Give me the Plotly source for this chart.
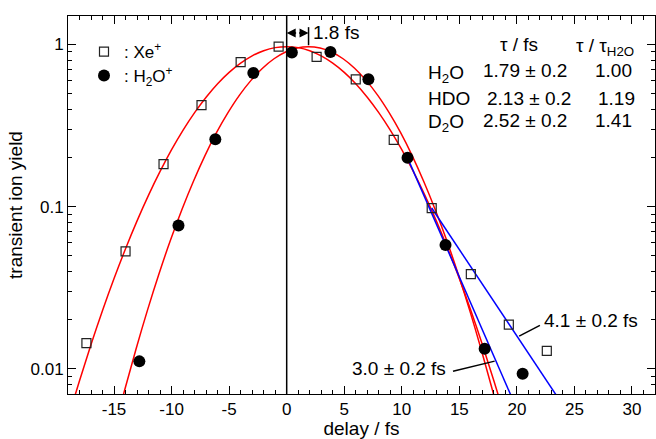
import math
import plotly.graph_objects as go

# ---- data ----
xe_delay = [-17.4, -14.0, -10.7, -7.4, -4.0, -0.7, 2.6, 6.0, 9.3, 12.6, 16.0, 19.3, 22.6]
xe_yield = [0.0144, 0.053, 0.183, 0.423, 0.778, 0.97, 0.84, 0.61, 0.258, 0.098, 0.0383, 0.0187, 0.0129]

h2o_delay = [-12.8, -9.4, -6.2, -2.9, 0.45, 3.8, 7.1, 10.5, 13.8, 17.2, 20.5]
h2o_yield = [0.0111, 0.0765, 0.26, 0.668, 0.893, 0.90, 0.61, 0.20, 0.058, 0.0133, 0.0093]

# Gaussian fit curves
fit_xe_delay = [-19, -18, -17, -16, -15, -14, -13, -12, -11, -10, -9, -8, -7, -6, -5, -4, -3, -2, -1, 0,
                1, 2, 3, 4, 5, 6, 7, 8, 9, 10, 11, 12, 13, 14, 15, 16, 17, 18, 19]
fit_xe_yield = [0.00491, 0.00843, 0.0141, 0.02286, 0.036, 0.055, 0.0817, 0.1178, 0.1648, 0.2244, 0.2965,
                0.380, 0.473, 0.573, 0.673, 0.767, 0.851, 0.916, 0.957, 0.970,
                0.957, 0.916, 0.851, 0.767, 0.673, 0.573, 0.473, 0.380, 0.2965, 0.2244, 0.1648, 0.1178,
                0.0817, 0.055, 0.036, 0.02286, 0.0141, 0.00843, 0.00491]

fit_h2o_delay = [-15.1, -14.1, -13.1, -12.1, -11.1, -10.1, -9.1, -8.1, -7.1, -6.1, -5.1, -4.1, -3.1, -2.1,
                 -1.1, -0.1, 0.9, 1.9, 2.9, 3.9, 4.9, 5.9, 6.9, 7.9, 8.9, 9.9, 10.9, 11.9, 12.9, 13.9,
                 14.9, 15.9, 16.9, 17.9, 18.9]
fit_h2o_yield = [0.00387, 0.00728, 0.01315, 0.0229, 0.0384, 0.062, 0.0961, 0.1435, 0.2065, 0.2858, 0.380,
                 0.4875, 0.601, 0.714, 0.817, 0.900, 0.952, 0.970, 0.952, 0.900, 0.817, 0.714, 0.601,
                 0.4875, 0.380, 0.2858, 0.2065, 0.1435, 0.0961, 0.062, 0.0384, 0.0229, 0.01315,
                 0.00728, 0.00387]

# exponential decay fits (blue lines)
decay_fast_delay = [10.5, 19.5]
decay_fast_yield = [0.20, 0.0068]
decay_slow_delay = [12.6, 23.4]
decay_slow_yield = [0.098, 0.0069]

# leader lines / marker bar
lead_slow_delay = [20.2, 22.0]
lead_slow_yield = [0.0159, 0.0185]
lead_fast_delay = [14.45, 18.07]
lead_fast_yield = [0.00966, 0.01114]
shift_bar_delay = [1.9, 1.9]
shift_bar_yield = [0.99, 1.28]
shift_arrow_delay = [0.0, 1.9]
shift_arrow_yield = 1.18

x_ticks = [-15, -10, -5, 0, 5, 10, 15, 20, 25, 30]
x_ticktext = ["-15", "-10", "-5", "0", "5", "10", "15", "20", "25", "30"]
y_ticks = [0.01, 0.1, 1]
y_ticktext = ["0.01", "0.1", "1"]

FONT = "Liberation Sans, Arial, Helvetica, sans-serif"

fig = go.Figure()

line_traces = [
    (fit_xe_delay, fit_xe_yield, "red"),
    (fit_h2o_delay, fit_h2o_yield, "red"),
    (decay_fast_delay, decay_fast_yield, "blue"),
    (decay_slow_delay, decay_slow_yield, "blue"),
    (lead_slow_delay, lead_slow_yield, "black"),
    (lead_fast_delay, lead_fast_yield, "black"),
    (shift_bar_delay, shift_bar_yield, "black"),
]
for xs, ys, col in line_traces:
    fig.add_trace(go.Scatter(x=xs, y=ys, mode="lines",
                             line=dict(color=col, width=1.5, shape="spline" if col == "red" else "linear"),
                             showlegend=False, hoverinfo="skip"))

fig.add_trace(go.Scatter(x=xe_delay, y=xe_yield, mode="markers", name=": Xe<sup>+</sup>",
                         legend="legend",
                         marker=dict(symbol="square-open", size=9, color="#222",
                                     line=dict(width=1.2, color="#222"))))
fig.add_trace(go.Scatter(x=h2o_delay, y=h2o_yield, mode="markers", name=": H<sub>2</sub>O<sup>+</sup>",
                         legend="legend2",
                         marker=dict(symbol="circle", size=12, color="black")))

# vertical line at zero delay
fig.add_shape(type="line", xref="x", yref="paper", x0=0, x1=0, y0=0, y1=1,
              line=dict(color="black", width=1.5))

# double arrow for 1.8 fs shift: two single-headed arrows from the midpoint
arrow_y = math.log10(shift_arrow_yield)
mid = sum(shift_arrow_delay) / 2
for end in shift_arrow_delay:
    fig.add_annotation(x=end, y=arrow_y, ax=mid, ay=arrow_y, xref="x", yref="y", axref="x", ayref="y",
                       text="", showarrow=True, arrowhead=2, arrowsize=1.2, standoff=0, startstandoff=0,
                       arrowwidth=1.5, arrowcolor="black")


def px2paper(px, py):
    return (px - 68) / 587, 1 - (py - 16) / 378


def ann(text, px, py, xanchor="left", size=19):
    x, y = px2paper(px, py)
    fig.add_annotation(x=x, y=y, xref="paper", yref="paper", text=text, showarrow=False,
                       xanchor=xanchor, yanchor="middle", font=dict(size=size, color="black", family=FONT))


ann("1.8 fs", 311, 32.7)
ann("4.1 ± 0.2 fs", 542, 320)
ann("3.0 ± 0.2 fs", 448, 368.3, xanchor="right")

ann("τ / fs", 519, 44, xanchor="center")
ann("τ / τ<sub>H2O</sub>", 574, 47)
ann("H<sub>2</sub>O", 426, 74)
ann("1.79 ± 0.2", 481, 71)
ann("1.00", 634, 71, xanchor="right")
ann("HDO", 426, 98.3)
ann("2.13 ± 0.2", 485, 98.3)
ann("1.19", 637, 98.3, xanchor="right")
ann("D<sub>2</sub>O", 426, 123)
ann("2.52 ± 0.2", 481, 120.3)
ann("1.41", 634, 120.3, xanchor="right")

axis_common = dict(showline=True, linecolor="black", linewidth=1, mirror="ticks", ticks="inside",
                   tickcolor="black", tickwidth=1, ticklen=8, showgrid=False, zeroline=False,
                   tickfont=dict(size=17, color="black", family=FONT))

fig.update_xaxes(range=[-19, 32], tickmode="array", tickvals=x_ticks, ticktext=x_ticktext,
                 minor=dict(dtick=1, tick0=0, ticks="inside", ticklen=4, tickcolor="black", showgrid=False),
                 title=dict(text="delay / fs", font=dict(size=19, color="black", family=FONT), standoff=6),
                 **axis_common)
fig.update_yaxes(type="log", range=[-2.156, 0.176], tickmode="array", tickvals=y_ticks, ticktext=y_ticktext,
                 minor=dict(dtick="D1", ticks="inside", ticklen=4, tickcolor="black", showgrid=False),
                 title=dict(text="transient ion yield", font=dict(size=19, color="black", family=FONT),
                            standoff=2),
                 **axis_common)

leg_font = dict(size=17, color="black", family=FONT)
lx1, ly1 = px2paper(84, 34)
lx2, ly2 = px2paper(84, 58)
fig.update_layout(width=656, height=439, margin=dict(l=68, r=1, t=16, b=45),
                  paper_bgcolor="white", plot_bgcolor="white",
                  font=dict(family=FONT, color="black"),
                  legend=dict(x=lx1, y=ly1, xanchor="left", yanchor="top", bgcolor="rgba(0,0,0,0)",
                              font=leg_font),
                  legend2=dict(x=lx2, y=ly2, xanchor="left", yanchor="top", bgcolor="rgba(0,0,0,0)",
                               font=leg_font))

fig.write_html("out.html", config={"displayModeBar": False},
               post_script="document.body.style.margin='0';")
